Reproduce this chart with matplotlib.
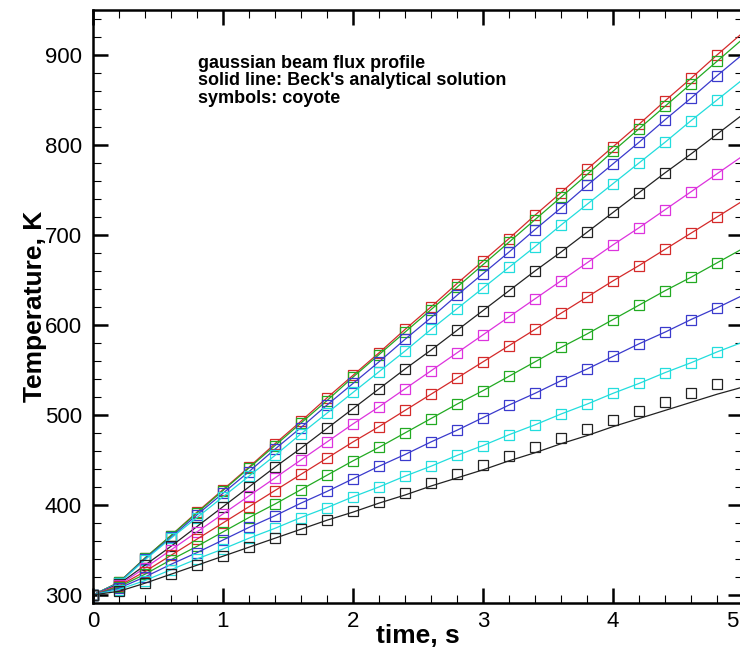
import matplotlib
matplotlib.use("Agg")
import matplotlib.pyplot as plt
from matplotlib.ticker import MultipleLocator

# time levels, s (symbols every 0.2 s)
times = [0.0, 0.2, 0.4, 0.6, 0.8, 1.0, 1.2, 1.4, 1.6, 1.8, 2.0, 2.2, 2.4,
         2.6, 2.8, 3.0, 3.2, 3.4, 3.6, 3.8, 4.0, 4.2, 4.4, 4.6, 4.8, 5.0]

# temperatures, K, one curve per radial location (top curve first)
temp_1 = [300, 314, 341, 366, 392, 417, 442, 468, 493, 519, 544, 569, 595,
          620, 646, 671, 696, 722, 747, 773, 798, 823, 849, 874, 900, 925]
temp_2 = [300, 314, 341, 366, 391, 416, 441, 466, 491, 516, 542, 567, 592,
          617, 642, 667, 692, 717, 742, 767, 793, 818, 843, 868, 893, 918]
temp_3 = [300, 313.5, 340, 364, 389, 413, 437, 462, 486, 511, 535, 559, 584,
          608, 633, 657, 681, 706, 730, 755, 779, 803, 828, 852, 877, 901]
temp_4 = [300, 313, 339, 363, 386, 409, 432, 455, 479, 502, 525, 548, 571,
          595, 618, 641, 664, 687, 711, 734, 757, 780, 803, 827, 850, 873]
temp_5 = [300, 312, 333, 354, 376, 398, 420, 442, 463, 485, 507, 529, 551,
          572, 594, 616, 638, 660, 681, 703, 725, 747, 769, 790, 812, 834]
temp_6 = [300, 311, 330, 350, 370, 390, 410, 430, 450, 470, 490, 509, 529,
          549, 569, 589, 609, 629, 649, 669, 689, 708, 728, 748, 768, 788]
temp_7 = [300, 310, 326, 344, 362, 380, 398, 416, 434, 452, 470, 487, 505,
          523, 541, 559, 577, 595, 613, 631, 649, 666, 684, 702, 720, 738]
temp_8 = [300, 309, 323, 339, 354, 370, 386, 401, 417, 433, 449, 464, 480,
          496, 512, 527, 543, 559, 575, 590, 606, 622, 638, 653, 669, 685]
temp_9 = [300, 307.5, 320, 334, 347, 361, 375, 388, 402, 415, 429, 443, 456,
          470, 483, 497, 511, 524, 538, 551, 565, 579, 592, 606, 619, 633]
temp_10 = [300, 306, 316, 328, 340, 351, 363, 374, 386, 397, 409, 420, 432,
           443, 455, 466, 478, 489, 501, 512, 524, 535, 547, 558, 570, 581]
temp_11 = [300, 304, 313, 323, 333, 343, 353, 363, 373, 383, 393, 403, 413,
           424, 434, 444, 454, 464, 474, 484, 494, 504, 514, 524, 534, 544]
# analytical line for the outermost curve drifts below the symbols
beck_11 = [300, 304, 313, 323, 333, 343, 353, 363, 373, 383, 392, 402, 411,
           421, 430, 439, 449, 458, 468, 477, 487, 496, 505, 514, 523, 531]

symbol_sets = [temp_1, temp_2, temp_3, temp_4, temp_5, temp_6,
               temp_7, temp_8, temp_9, temp_10, temp_11]
line_sets = [temp_1, temp_2, temp_3, temp_4, temp_5, temp_6,
             temp_7, temp_8, temp_9, temp_10, beck_11]
colors = ["#d42a2a", "#22aa22", "#3a3acc", "#22dddd", "#222222", "#dd33dd",
          "#d42a2a", "#22aa22", "#3a3acc", "#22dddd", "#222222"]

x_ticks = [0, 1, 2, 3, 4, 5]
x_tick_labels = ["0", "1", "2", "3", "4", ""]

note_lines = ["gaussian beam flux profile",
              "solid line: Beck's analytical solution",
              "symbols: coyote"]

plt.rcParams["font.family"] = ["Liberation Sans", "DejaVu Sans"]

fig = plt.figure(figsize=(7.4, 6.6), dpi=100)
ax = fig.add_axes([93 / 740, 57 / 660, 650 / 740, 593 / 660])

for sym, line, c in zip(symbol_sets, line_sets, colors):
    ax.plot(times, line, color=c, lw=0.9)
    ax.plot(times[:-1], sym[:-1], "s", ms=6.5, mfc="none", mec=c, mew=0.9)

ax.set_xlim(0, 5)
ax.set_ylim(291, 950)
ax.set_xticks(x_ticks, labels=x_tick_labels)
ax.xaxis.set_minor_locator(MultipleLocator(0.2))
ax.yaxis.set_major_locator(MultipleLocator(100))
ax.yaxis.set_minor_locator(MultipleLocator(20))
ax.tick_params(which="both", direction="in", top=True, right=True,
               labelsize=16)
ax.tick_params(which="major", length=11, width=1.8)
ax.tick_params(which="minor", length=5.5, width=0.8)
ax.tick_params(axis="x", pad=6)
ax.tick_params(axis="y", pad=8)
for sp in ax.spines.values():
    sp.set_linewidth(1.8)

# the picture is cut right at x = 5, so keep that label inside the edge
fig.text(0.998, 1 - 611 / 660, "5", fontsize=16, ha="right", va="top")

ax.set_xlabel("time, s", fontsize=19, fontweight="bold")
ax.set_ylabel("Temperature, K", fontsize=19, fontweight="bold")
ax.xaxis.set_label_coords(0.5, -0.036)
ax.yaxis.set_label_coords(-0.071, 0.5)

for i, txt in enumerate(note_lines):
    ax.text(0.81, 886 - i * 19.4, txt, fontsize=13, fontweight="bold",
            va="baseline", ha="left")

fig.savefig("out.png", dpi=100)
